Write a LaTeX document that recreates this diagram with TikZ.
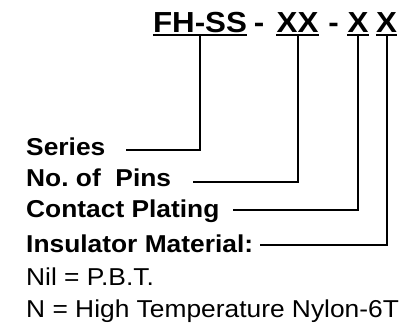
\documentclass[tikz,border=0pt]{standalone}
\usepackage{fontspec}
\setmainfont[FakeStretch=1.08]{Liberation Sans}
\frenchspacing

\begin{document}
\begin{tikzpicture}[x=1bp,y=-1bp,
	code/.style={font=\fontsize{29bp}{30bp}\selectfont\bfseries,anchor=base,
		inner xsep=0pt,inner ysep=2.4bp,text depth=0pt},
	field/.style={font=\fontsize{24.4bp}{26bp}\selectfont\bfseries,anchor=base west,inner sep=0pt},
	note/.style={font=\fontsize{24.4bp}{26bp}\selectfont,anchor=base west,inner sep=0pt},
	lead/.style={line width=2bp}]
	\useasboundingbox (0,0) rectangle (407,325);
	% part number
	\node[code] (fhss) at (200,32) {FH-SS};
	\node[code] (d1) at (259,32) {-};
	\node[code] (xx) at (297.5,32) {XX};
	\node[code] (d2) at (333.5,32) {-};
	\node[code] (xa) at (358,32) {X};
	\node[code] (xb) at (386.5,32) {X};
	% fields
	\node[field] (series) at (26,155) {Series};
	\node[field] (pins) at (26,186) {No. of\ \ Pins};
	\node[field] (plating) at (26,217) {Contact Plating};
	\node[field] (material) at (26,252) {Insulator Material:};
	\node[note] (nil) at (26,285) {Nil = P.B.T.};
	\node[note] (nylon) at (26,317) {N = High Temperature Nylon-6T};
	\coordinate (sL) at (126,150);
	\coordinate (pL) at (193,182);
	\coordinate (cL) at (233,210);
	\coordinate (mL) at (260,244.5);
	\foreach \n/\e in {fhss/sL, xx/pL, xa/cL, xb/mL}
		{
		\draw[lead] (\n.south west) -- (\n.south east);
		\draw[lead] (\n.south) |- (\e);
	};
\end{tikzpicture}
\end{document}
